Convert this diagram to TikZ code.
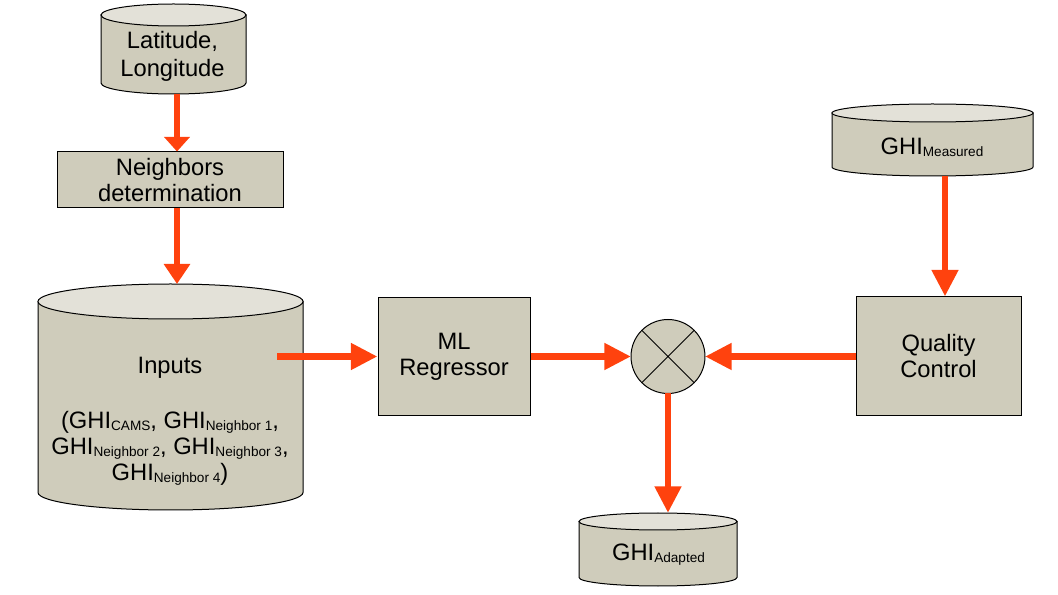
\documentclass[tikz,border=0pt]{standalone}
\usepackage{fontspec}
\setmainfont{Liberation Sans}
\usetikzlibrary{arrows.meta,fit}
\definecolor{boxfill}{RGB}{207,204,187}
\definecolor{topfill}{RGB}{227,225,216}
\definecolor{flowred}{RGB}{255,66,14}
% lowered small text for the GHI indices
\newcommand\idx[1]{\raisebox{-1.5pt}{\fontsize{10.2pt}{11pt}\selectfont #1}}
\tikzset{
  txt/.style={align=center, inner sep=0pt, font=\fontsize{17.8pt}{19.5pt}\selectfont},
  block/.style={draw, line width=0.75pt, fill=boxfill, txt},
  cylbody/.style={draw, line width=0.75pt, fill=boxfill},
  cyltop/.style={draw, line width=0.75pt, fill=topfill},
  flow/.style={flowred, line width=5pt, -{Triangle[length=20pt,width=19pt]}},
}
% data store: name, left, right, top, bottom, radius of the ends
\newcommand\datacyl[6]{%
  \path[cylbody] (#2,{#4+#6}) -- (#2,{#5-#6})
    arc[start angle=180, end angle=360, x radius={(#3-#2)*0.375pt}, y radius={#6*0.75pt}]
    -- (#3,{#4+#6}) -- cycle;
  \path[cyltop] ({(#2+#3)/2},{#4+#6}) ellipse[x radius={(#3-#2)*0.375pt}, y radius={#6*0.75pt}];
  \node[fit={(#2,#4) (#3,#5)}, inner sep=0pt, outer sep=0pt] (#1) {};
}
\begin{document}
\begin{tikzpicture}[x=0.75pt, y=-0.75pt]
\useasboundingbox (0,0) rectangle (1058,595);

% Data stores
\datacyl{latlon}{101}{246}{4}{94}{11}
\datacyl{inputs}{38}{303}{284}{510}{17.5}
\datacyl{measured}{832}{1033}{104}{176}{9}
\datacyl{adapted}{579}{737}{513}{586}{8.5}

% Texts of the data stores
\node[txt] (latlontxt) at (172.5,56) {Latitude,\\[1.5pt]Longitude};
\node[txt] (inputstxt) at (170,421.6) {Inputs\\[21.5pt](GHI\idx{CAMS}, GHI\idx{Neighbor 1},\\GHI\idx{Neighbor 2}, GHI\idx{Neighbor 3},\\GHI\idx{Neighbor 4})};
\node[txt] (measuredtxt) at (932,147) {GHI\idx{Measured}};
\node[txt] (adaptedtxt) at (658.5,555) {GHI\idx{Adapted}};

% Processing blocks
\node[block, minimum width=169.5pt, minimum height=42pt] (nb) at (170,180) {Neighbors\\determination};
\node[block, minimum width=114pt, minimum height=88.5pt] (ml) at (454,356.5) {ML\\Regressor};
\node[block, minimum width=123.75pt, minimum height=89.25pt] (qc) at (938.5,356.5) {Quality\\Control};

% Combination
\node[draw, circle, line width=0.75pt, fill=boxfill, minimum size=55.5pt, inner sep=0pt, outer sep=0pt] (mix) at (668,356.5) {};
\draw[line width=0.75pt] (mix.north west) -- (mix.south east) (mix.north east) -- (mix.south west);

% Flows
\coordinate (col) at (177,0);
\coordinate (qccol) at (945,0);
\coordinate (instart) at (277,356.5);
\draw[flow, -{Triangle[length=11pt,width=19pt]}] (latlon.south -| col) -- (nb.north -| col);
\draw[flow, -{Triangle[length=15pt,width=19pt]}] (nb.south -| col) -- (inputs.north -| col);
\draw[flow] (instart) -- (ml);
\draw[flow] (ml) -- (mix);
\draw[flow] (qc) -- (mix);
\draw[flow] (measured.south -| qccol) -- (qc.north -| qccol);
\draw[flow] (mix) -- (mix |- adapted.north);
\end{tikzpicture}
\end{document}
